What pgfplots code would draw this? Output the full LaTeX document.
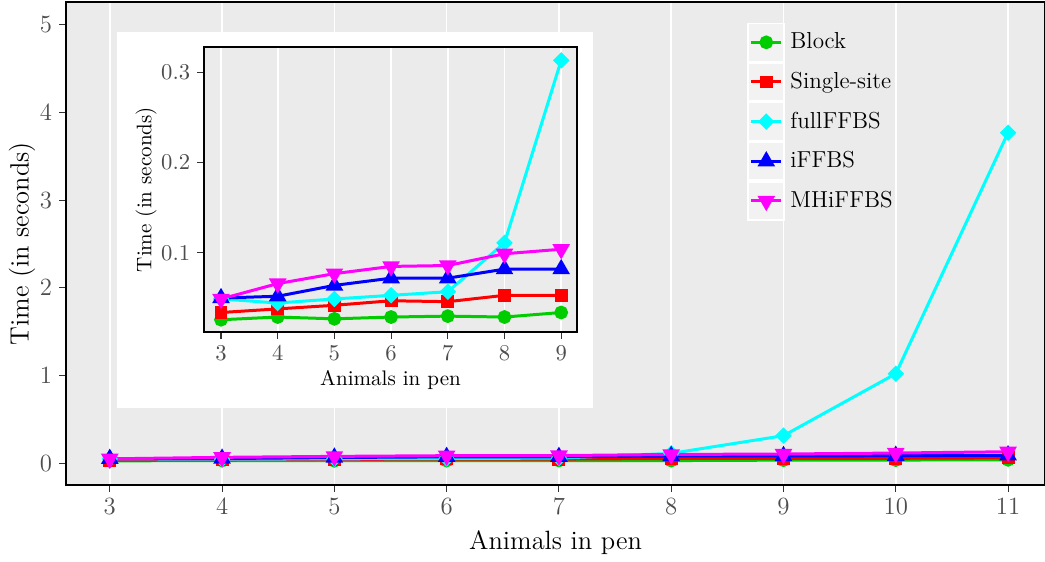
\documentclass[border=0pt]{standalone}
\usepackage{pgfplots}
\pgfplotsset{compat=1.18}
\definecolor{panel}{HTML}{EBEBEB}
\definecolor{tickgray}{HTML}{4D4D4D}
\definecolor{tickmark}{HTML}{333333}
\definecolor{keybg}{HTML}{F2F2F2}
\definecolor{cgreen}{RGB}{0,205,0}
\definecolor{cred}{RGB}{255,0,0}
\definecolor{ccyan}{RGB}{0,255,255}
\definecolor{cblue}{RGB}{0,0,255}
\definecolor{cmag}{RGB}{255,0,255}
\pgfplotsset{
  ggstyle/.style={
    scale only axis,
    axis background/.style={fill=panel},
    axis line style={black, line width=0.8pt},
    tick align=outside,
    tick pos=left,
    major tick length=3.2pt,
    major tick style={tickmark, line width=0.5pt},
    xmajorgrids, ymajorgrids=false,
    major grid style={white, line width=0.8pt},
    tick label style={text=tickgray},
  },
  sBlock/.style={cgreen, line width=1.45pt, mark=*, mark size=2.6pt, mark options={solid}},
  sSingle/.style={cred, line width=1.45pt, mark=square*, mark size=2.4pt, mark options={solid}},
  sFull/.style={ccyan, line width=1.45pt, mark=square*, mark size=2.1pt, mark options={solid, rotate=45}},
  sI/.style={cblue, line width=1.45pt, mark=triangle*, mark size=3.5pt, mark options={solid}},
  sMH/.style={cmag, line width=1.45pt, mark=triangle*, mark size=3.5pt, mark options={solid, rotate=180}},
}
\begin{document}
\begin{tikzpicture}
\useasboundingbox (0,0) rectangle (505.9pt,271.6pt);
\begin{axis}[ggstyle,
  at={(31.95pt,36.79pt)}, anchor=south west,
  width=474pt, height=233.8pt,
  xmin=2.61, xmax=11.33, ymin=-0.25, ymax=5.26,
  xtick={3,4,5,6,7,8,9,10,11}, ytick={0,1,2,3,4,5},
  tick label style={font=\fontsize{11.6}{13}\selectfont},
  xlabel={Animals in pen}, ylabel={Time (in seconds)},
  label style={font=\fontsize{12.8}{15}\selectfont},
  xlabel style={at={(axis description cs:0.5,-0.1198)}, anchor=center},
  ylabel style={at={(axis description cs:-0.045,0.5)}, anchor=center},
  legend cell align=left,
  legend style={at={(axis description cs:0.6956,0.9586)}, anchor=north west,
    draw=none, fill=none, inner sep=0pt, row sep=0pt, column sep=2.6pt,
    nodes={inner sep=0pt}, font=\fontsize{11.2}{13}\selectfont},
  legend image code/.code={
    \fill[fill=keybg, draw=white, line width=0.8pt] (-1.5pt,-9.2pt) rectangle (15.9pt,9.2pt);
    \draw[mark repeat=2, mark phase=2] plot coordinates {(0pt,0pt) (7.2pt,0pt) (14.4pt,0pt)};
  },
]
\addplot[sBlock] coordinates {(3,0.026) (4,0.029) (5,0.027) (6,0.029) (7,0.030) (8,0.029) (9,0.034) (10,0.035) (11,0.038)};
\addplot[sSingle] coordinates {(3,0.034) (4,0.038) (5,0.042) (6,0.047) (7,0.046) (8,0.053) (9,0.053) (10,0.055) (11,0.060)};
\addplot[sFull] coordinates {(3,0.049) (4,0.0445) (5,0.049) (6,0.053) (7,0.057) (8,0.111) (9,0.313) (10,1.02) (11,3.77)};
\addplot[sI] coordinates {(3,0.050) (4,0.052) (5,0.064) (6,0.072) (7,0.072) (8,0.082) (9,0.082) (10,0.085) (11,0.090)};
\addplot[sMH] coordinates {(3,0.049) (4,0.066) (5,0.077) (6,0.085) (7,0.086) (8,0.099) (9,0.104) (10,0.115) (11,0.130)};
\legend{Block, Single-site, fullFFBS, iFFBS, MHiFFBS}
\end{axis}
\fill[white] (56.64pt,74.07pt) rectangle (287.07pt,256.1pt);
\begin{axis}[ggstyle,
  at={(98.76pt,110.86pt)}, anchor=south west,
  width=180.6pt, height=137.97pt,
  xmin=2.7, xmax=9.28, ymin=0.0124, ymax=0.3277,
  xtick={3,4,5,6,7,8,9}, ytick={0.1,0.2,0.3},
  yticklabel style={/pgf/number format/fixed, /pgf/number format/precision=1},
  tick label style={font=\fontsize{10.6}{12}\selectfont},
  xlabel={Animals in pen}, ylabel={Time (in seconds)},
  label style={font=\fontsize{10.2}{12}\selectfont},
  xlabel style={at={(axis description cs:0.5,-0.168)}, anchor=center},
  ylabel style={at={(axis description cs:-0.155,0.5)}, anchor=center},
]
\addplot[sBlock] coordinates {(3,0.026) (4,0.029) (5,0.027) (6,0.029) (7,0.030) (8,0.029) (9,0.034)};
\addplot[sSingle] coordinates {(3,0.034) (4,0.038) (5,0.042) (6,0.047) (7,0.046) (8,0.053) (9,0.053)};
\addplot[sFull] coordinates {(3,0.049) (4,0.0445) (5,0.049) (6,0.053) (7,0.057) (8,0.111) (9,0.313)};
\addplot[sI] coordinates {(3,0.050) (4,0.052) (5,0.064) (6,0.072) (7,0.072) (8,0.082) (9,0.082)};
\addplot[sMH] coordinates {(3,0.049) (4,0.066) (5,0.077) (6,0.085) (7,0.086) (8,0.099) (9,0.104)};
\end{axis}
\end{tikzpicture}
\end{document}
